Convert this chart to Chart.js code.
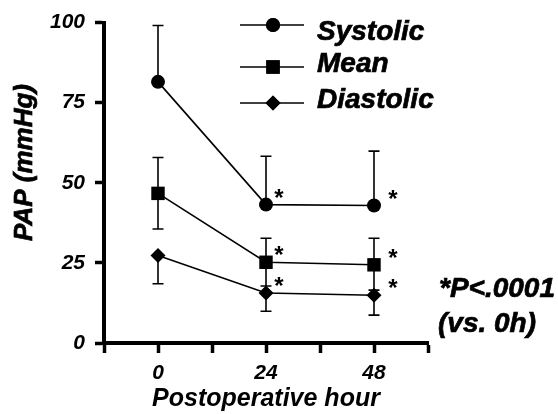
<!DOCTYPE html>
<html>
<head>
<meta charset="utf-8">
<script src="https://cdn.jsdelivr.net/npm/chart.js@4/dist/chart.umd.min.js"></script>
<style>
  html, body { margin: 0; padding: 0; background: #fff; }
  canvas { display: block; }
</style>
</head>
<body>
<canvas id="myChart" width="558" height="414"></canvas>
<script>
// hours after operation
var hours = [0, 24, 48];
var xTickLabels = ['0', '24', '48'];

// PAP values (mmHg)
var systolic = [81.5, 43.2, 42.9];
var systolicUp = [99.1, 58.3, 59.9];
var mean = [46.7, 25.2, 24.4];
var meanUp = [57.9, 32.7, 32.7];
var meanDown = [35.6, 17.8, 16.5];
var diastolic = [27.3, 15.6, 14.9];
var diastolicDown = [18.5, 9.9, 8.7];

// * = P<.0001 vs 0h
var significant = [false, true, true];

var seriesNames = ['Systolic', 'Mean', 'Diastolic'];
var yTicks = [0, 25, 50, 75, 100];

var FONT = "'Liberation Sans', Arial, Helvetica, sans-serif";

function toPoints(vals) {
  var out = [];
  for (var i = 0; i < hours.length; i++) out.push({ x: hours[i], y: vals[i] });
  return out;
}

var errorBars = [
  { up: systolicUp, down: null },
  { up: meanUp, down: meanDown },
  { up: null, down: diastolicDown }
];

var errorBarPlugin = {
  id: 'errorBars',
  beforeDatasetsDraw: function (chart) {
    var ctx = chart.ctx;
    var yScale = chart.scales.y;
    ctx.save();
    ctx.strokeStyle = '#000';
    ctx.lineWidth = 1.6;
    errorBars.forEach(function (eb, i) {
      var meta = chart.getDatasetMeta(i);
      meta.data.forEach(function (pt, j) {
        [eb.up, eb.down].forEach(function (arr) {
          if (!arr) return;
          var yy = yScale.getPixelForValue(arr[j]);
          ctx.beginPath();
          ctx.moveTo(pt.x, pt.y);
          ctx.lineTo(pt.x, yy);
          ctx.moveTo(pt.x - 5.5, yy);
          ctx.lineTo(pt.x + 5.5, yy);
          ctx.stroke();
        });
      });
    });
    ctx.restore();
  }
};

var starOffsets = [13, 13, 19];

// text with a thin outline so it looks as heavy as the original
function heavyText(ctx, txt, x, y) {
  ctx.fillText(txt, x, y);
  ctx.strokeText(txt, x, y);
}

var annotationPlugin = {
  id: 'annotations',
  afterDraw: function (chart) {
    var ctx = chart.ctx;
    ctx.save();
    ctx.fillStyle = '#000';
    ctx.strokeStyle = '#000';

    // asterisks next to significant points
    ctx.font = 'bold 24px ' + FONT;
    ctx.textAlign = 'center';
    ctx.textBaseline = 'alphabetic';
    for (var i = 0; i < 3; i++) {
      var meta = chart.getDatasetMeta(i);
      meta.data.forEach(function (pt, j) {
        if (!significant[j]) return;
        ctx.fillText('*', pt.x + starOffsets[j], pt.y + 1);
      });
    }

    // legend
    var styles = ['circle', 'rect', 'rectRot'];
    var radii = [7, 9.5, 7.5];
    var lineY = [25, 67, 103];
    var textY = [40, 72, 108];
    for (var k = 0; k < 3; k++) {
      ctx.lineWidth = 1.6;
      ctx.beginPath();
      ctx.moveTo(240, lineY[k]);
      ctx.lineTo(304, lineY[k]);
      ctx.stroke();
      Chart.helpers.drawPoint(ctx, { pointStyle: styles[k], radius: radii[k], borderWidth: 0, rotation: 0 }, 273, lineY[k]);
      ctx.fill();
      ctx.font = 'italic bold 28px ' + FONT;
      ctx.textAlign = 'left';
      ctx.lineWidth = 0.7;
      heavyText(ctx, seriesNames[k], 317, textY[k]);
    }

    // p-value note
    ctx.font = 'italic bold 28px ' + FONT;
    heavyText(ctx, '*P<.0001', 439, 297);
    heavyText(ctx, '(vs. 0h)', 438, 332);

    // y axis title
    ctx.translate(31.7, 241);
    ctx.rotate(-Math.PI / 2);
    ctx.font = 'italic bold 26px ' + FONT;
    heavyText(ctx, 'PAP (mmHg)', 0, 0);
    ctx.restore();
  }
};

var ctx = document.getElementById('myChart').getContext('2d');

new Chart(ctx, {
  type: 'line',
  data: {
    datasets: [
      {
        label: seriesNames[0],
        data: toPoints(systolic),
        borderColor: '#000',
        backgroundColor: '#000',
        borderWidth: 1.6,
        pointStyle: 'circle',
        pointRadius: 7,
        pointBorderWidth: 0,
        clip: false
      },
      {
        label: seriesNames[1],
        data: toPoints(mean),
        borderColor: '#000',
        backgroundColor: '#000',
        borderWidth: 1.6,
        pointStyle: 'rect',
        pointRadius: 9.5,
        pointBorderWidth: 0,
        clip: false
      },
      {
        label: seriesNames[2],
        data: toPoints(diastolic),
        borderColor: '#000',
        backgroundColor: '#000',
        borderWidth: 1.6,
        pointStyle: 'rectRot',
        pointRadius: 7.5,
        pointBorderWidth: 0,
        clip: false
      }
    ]
  },
  options: {
    responsive: false,
    animation: false,
    layout: { padding: { left: 0, right: 130, top: 21, bottom: 0 } },
    plugins: {
      legend: { display: false },
      tooltip: { enabled: false }
    },
    scales: {
      x: {
        type: 'linear',
        min: -12,
        max: 60,
        afterFit: function (s) { s.height = 71; },
        afterBuildTicks: function (s) {
          var t = [];
          for (var v = -12; v <= 60; v += 12) t.push({ value: v });
          s.ticks = t;
        },
        ticks: {
          color: '#000',
          padding: 8,
          maxRotation: 0,
          autoSkip: false,
          font: { family: FONT, size: 21, style: 'italic', weight: 'bold' },
          callback: function (value) {
            var idx = hours.indexOf(value);
            return idx >= 0 ? xTickLabels[idx] : '';
          }
        },
        grid: {
          drawOnChartArea: false,
          drawTicks: true,
          tickLength: 10,
          tickWidth: 3.5,
          tickColor: '#000'
        },
        border: { color: '#000', width: 4 },
        title: {
          display: true,
          text: 'Postoperative hour',
          color: '#000',
          padding: { top: 0, bottom: 0 },
          font: { family: FONT, size: 25, style: 'italic', weight: 'bold' }
        }
      },
      y: {
        min: 0,
        max: 100,
        afterFit: function (s) { s.width = 104; },
        afterBuildTicks: function (s) {
          s.ticks = yTicks.map(function (v) { return { value: v }; });
        },
        ticks: {
          color: '#000',
          padding: 10,
          font: { family: FONT, size: 21, style: 'italic', weight: 'bold' }
        },
        grid: {
          drawOnChartArea: false,
          drawTicks: true,
          tickLength: 9,
          tickWidth: 3.5,
          tickColor: '#000'
        },
        border: { color: '#000', width: 4 }
      }
    }
  },
  plugins: [errorBarPlugin, annotationPlugin]
});
</script>
</body>
</html>
